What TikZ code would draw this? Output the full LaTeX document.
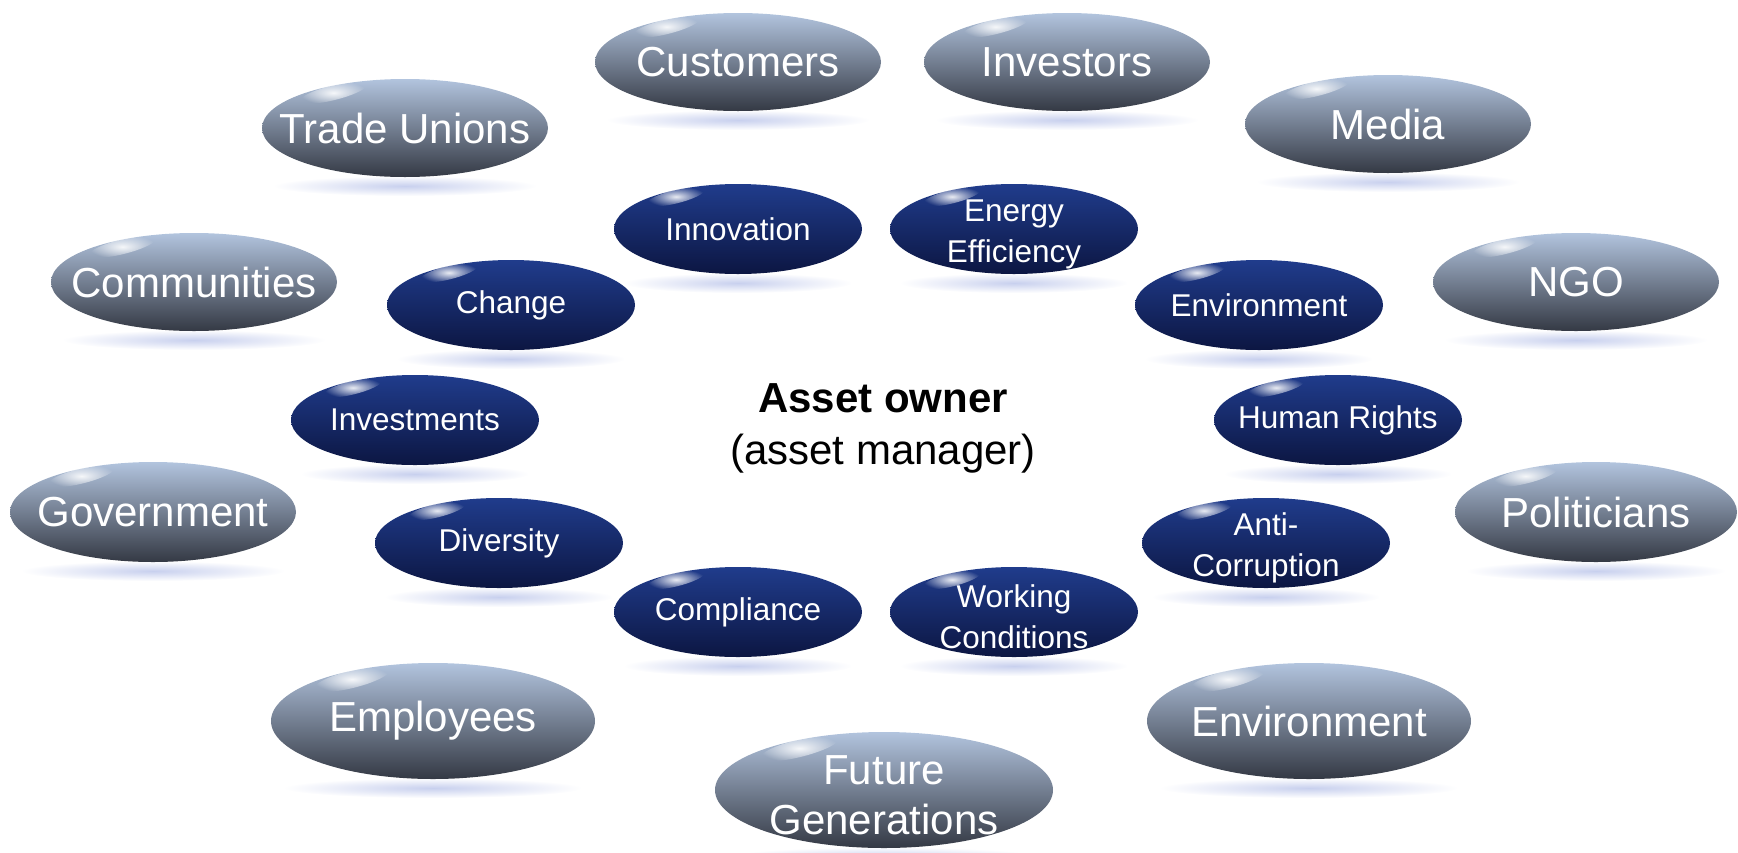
\documentclass[tikz,border=0pt]{standalone}
\usepackage{fontspec}
\setmainfont{Liberation Sans}
\usetikzlibrary{shapes.geometric,fadings}

\definecolor{steeltop}{RGB}{178,196,222}
\definecolor{steelmid}{RGB}{138,150,170}
\definecolor{steelbot}{RGB}{52,57,68}
\definecolor{navytop}{RGB}{32,60,140}
\definecolor{navymid}{RGB}{20,44,118}
\definecolor{navybot}{RGB}{12,22,66}
\definecolor{glowblue}{RGB}{200,208,238}

\tikzfading[name=softglow, inner color=transparent!0, outer color=transparent!100]

\tikzset{
  stakeholder/.style={ellipse, inner sep=0pt, draw=none,
    top color=steeltop, middle color=steelmid, bottom color=steelbot},
  topic/.style={ellipse, inner sep=0pt, draw=none,
    top color=navytop, middle color=navymid, bottom color=navybot},
  bigtext/.style={text=white, align=center, font=\fontsize{42}{50}\selectfont},
  bigtwo/.style={bigtext, yshift=-5.5pt},
  smalltext/.style={text=white, align=center, font=\fontsize{31.5}{41}\selectfont},
  smalltwo/.style={smalltext, yshift=-5pt},
  centertext/.style={text=black, font=\fontsize{42}{50}\selectfont, anchor=base},
}

% #1 name, #2 x, #3 y, #4 x radius, #5 y radius, #6 shape style, #7 text style, #8 text
\newcommand\bubble[8]{%
  \fill[glowblue, path fading=softglow] (#2,#3+#5+9) ellipse [x radius=0.92*#4, y radius=10];
  \node[#6, minimum width=2*#4, minimum height=2*#5] (#1) at (#2,#3) {};
  \fill[white, opacity=0.9, path fading=softglow,
        rotate around={14:(#2-0.5*#4,#3-0.72*#5)}]
        (#2-0.5*#4,#3-0.72*#5) ellipse [x radius=0.24*#4, y radius=0.15*#5];
  \node[#7] (#1-text) at (#1.center) {#8};
}

\begin{document}
\begin{tikzpicture}[x=1pt, y=-1pt]
\useasboundingbox (0,0) rectangle (1738,852);

% outer ring: stakeholders
\bubble{customers}{738}{62}{143}{49}{stakeholder}{bigtext}{Customers}
\bubble{investors}{1067}{62}{143}{49}{stakeholder}{bigtext}{Investors}
\bubble{unions}{405}{128}{143}{49}{stakeholder}{bigtext}{Trade Unions}
\bubble{media}{1388}{124}{143}{49}{stakeholder}{bigtext}{Media}
\bubble{communities}{194}{282}{143}{49}{stakeholder}{bigtext}{Communities}
\bubble{ngo}{1576}{282}{143}{49}{stakeholder}{bigtext}{NGO}
\bubble{government}{153}{512}{143}{50}{stakeholder}{bigtext}{Government}
\bubble{politicians}{1596}{512}{141}{50}{stakeholder}{bigtext}{Politicians}
\bubble{employees}{433}{721}{162}{58}{stakeholder}{bigtext}{Employees}
\bubble{environment}{1309}{721}{162}{58}{stakeholder}{bigtext}{Environment}
\bubble{future}{884}{790}{169}{58}{stakeholder}{bigtwo}{Future\\Generations}

% inner ring: topics
\bubble{innovation}{738}{229}{124}{45}{topic}{smalltext}{Innovation}
\bubble{energy}{1014}{229}{124}{45}{topic}{smalltwo}{Energy\\Efficiency}
\bubble{change}{511}{305}{124}{45}{topic}{smalltext}{Change}
\bubble{envtopic}{1259}{305}{124}{45}{topic}{smalltext}{Environment}
\bubble{investments}{415}{420}{124}{45}{topic}{smalltext}{Investments}
\bubble{rights}{1338}{420}{124}{45}{topic}{smalltext}{Human Rights}
\bubble{diversity}{499}{543}{124}{45}{topic}{smalltext}{Diversity}
\bubble{corruption}{1266}{543}{124}{45}{topic}{smalltwo}{Anti-\\Corruption}
\bubble{compliance}{738}{612}{124}{45}{topic}{smalltext}{Compliance}
\bubble{conditions}{1014}{612}{124}{45}{topic}{smalltwo}{Working\\Conditions}

% centre
\node[centertext] (owner) at (883,412) {\textbf{Asset owner}};
\node[centertext] (manager) at (883,464) {(asset manager)};
\end{tikzpicture}
\end{document}
